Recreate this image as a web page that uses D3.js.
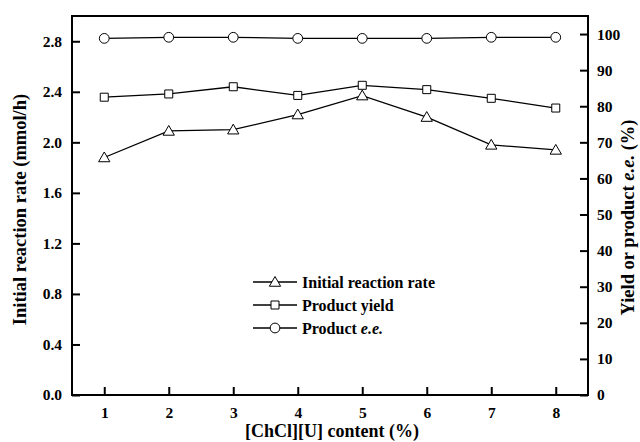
<!DOCTYPE html>
<html>
<script src="https://cdn.jsdelivr.net/npm/d3@7"></script>
<style>
    body {margin: 0; background: #fff;}
    svg text {font-family: "Liberation Serif", "Times New Roman", serif; font-weight: bold; fill: #000;}
</style>
<body>
<div id="chart"></div>
<script>
    // [ChCl][U] content (%)
    var contents = [1, 2, 3, 4, 5, 6, 7, 8];
    // initial reaction rate (mmol/h), left axis
    var rates = [1.88, 2.09, 2.10, 2.22, 2.37, 2.20, 1.98, 1.94];
    var rateErr = [0.03, 0.03, 0.03, 0.03, 0.03, 0.03, 0.03, 0.03];
    // product yield and e.e. (%), right axis
    var yields = [82.5, 83.4, 85.4, 83.0, 85.8, 84.6, 82.2, 79.5];
    var ees = [98.8, 99.1, 99.1, 98.8, 98.8, 98.8, 99.1, 99.1];

    var leftTicks = [0, 0.4, 0.8, 1.2, 1.6, 2.0, 2.4, 2.8];
    var rightTicks = [0, 10, 20, 30, 40, 50, 60, 70, 80, 90, 100];

    var margin = {top: 16, right: 52, bottom: 47, left: 72};
    var W = 640, H = 442;
    var width = W - margin.left - margin.right;
    var height = H - margin.top - margin.bottom;

    var svg = d3.select("#chart").append("svg")
        .attr("width", W)
        .attr("height", H)
        .append("g")
        .attr("transform", "translate(" + margin.left + "," + margin.top + ")");

    var x = d3.scaleLinear().domain([0.5, 8.5]).range([0, width]);
    var yL = d3.scaleLinear().domain([0, 3.0]).range([height, 0]);
    var yR = d3.scaleLinear().domain([0, 105]).range([height, 0]);

    // axes, ticks pointing inward
    var xAxis = svg.append("g")
        .attr("transform", "translate(0," + height + ")")
        .call(d3.axisBottom(x).tickValues(contents).tickSizeInner(-8).tickSizeOuter(0).tickPadding(12).tickFormat(d3.format("d")));
    var lAxis = svg.append("g")
        .call(d3.axisLeft(yL).tickValues(leftTicks).tickSizeInner(-8).tickSizeOuter(0).tickPadding(10).tickFormat(d3.format(".1f")));
    var rAxis = svg.append("g")
        .attr("transform", "translate(" + width + ",0)")
        .call(d3.axisRight(yR).tickValues(rightTicks).tickSizeInner(-8).tickSizeOuter(0).tickPadding(9).tickFormat(d3.format("d")));

    [xAxis, lAxis, rAxis].forEach(function(a) {
        a.select(".domain").remove();
        a.selectAll(".tick line").attr("stroke", "#000").attr("stroke-width", 2);
        a.selectAll("text").attr("font-size", 15.5).style("font-family", null);
    });

    // frame
    svg.append("rect")
        .attr("width", width)
        .attr("height", height)
        .attr("fill", "none")
        .attr("stroke", "#000")
        .attr("stroke-width", 2);

    function drawLine(vals, scale) {
        svg.append("path")
            .datum(vals)
            .attr("fill", "none")
            .attr("stroke", "#000")
            .attr("stroke-width", 1.3)
            .attr("d", d3.line()
                .x(function(d, i) { return x(contents[i]); })
                .y(function(d) { return scale(d); }));
    }

    drawLine(ees, yR);
    drawLine(yields, yR);
    drawLine(rates, yL);

    // error bars on rate
    svg.selectAll(".err").data(rates).enter().append("line")
        .attr("x1", function(d, i) { return x(contents[i]); })
        .attr("x2", function(d, i) { return x(contents[i]); })
        .attr("y1", function(d, i) { return yL(d + rateErr[i]); })
        .attr("y2", function(d, i) { return yL(d - rateErr[i]); })
        .attr("stroke", "#000")
        .attr("stroke-width", 1);

    var tri = d3.symbol().type(d3.symbolTriangle).size(55);
    var sq = d3.symbol().type(d3.symbolSquare).size(64);
    var circ = d3.symbol().type(d3.symbolCircle).size(75);

    function drawMarks(vals, scale, sym, dy) {
        svg.selectAll(null).data(vals).enter().append("path")
            .attr("d", sym)
            .attr("transform", function(d, i) { return "translate(" + x(contents[i]) + "," + (scale(d) + dy) + ")"; })
            .attr("fill", "#fff")
            .attr("stroke", "#000")
            .attr("stroke-width", 1);
    }

    drawMarks(ees, yR, circ, 0);
    drawMarks(yields, yR, sq, 0);
    drawMarks(rates, yL, tri, 1);

    // legend
    var legend = [
        {sym: tri, dy: 1, label: "Initial reaction rate"},
        {sym: sq, dy: 0, label: "Product yield"},
        {sym: circ, dy: 0, label: "Product ", ital: "e.e."}
    ];
    var lg = svg.append("g").attr("transform", "translate(181,266)");
    legend.forEach(function(d, i) {
        var g = lg.append("g").attr("transform", "translate(0," + (i * 23) + ")");
        g.append("line").attr("x1", 0).attr("x2", 44).attr("stroke", "#000").attr("stroke-width", 1.3);
        g.append("path").attr("d", d.sym).attr("transform", "translate(22," + d.dy + ")")
            .attr("fill", "#fff").attr("stroke", "#000").attr("stroke-width", 1);
        var t = g.append("text").attr("x", 49).attr("dy", "0.35em").attr("font-size", 16).text(d.label);
        if (d.ital) t.append("tspan").attr("font-style", "italic").text(d.ital);
    });

    // axis titles
    svg.append("text")
        .attr("x", width / 2 + 2)
        .attr("y", height + 42)
        .attr("text-anchor", "middle")
        .attr("font-size", 18)
        .text("[ChCl][U] content (%)");

    svg.append("text")
        .attr("transform", "translate(-46," + (height / 2 + 4) + ") rotate(-90)")
        .attr("text-anchor", "middle")
        .attr("font-size", 18.5)
        .text("Initial reaction rate (mmol/h)");

    var rt = svg.append("text")
        .attr("transform", "translate(" + (width + 46) + "," + (height / 2 + 12) + ") rotate(-90)")
        .attr("text-anchor", "middle")
        .attr("font-size", 18.5)
        .text("Yield or product ");
    rt.append("tspan").attr("font-style", "italic").text("e.e.");
    rt.append("tspan").text(" (%)");
</script>
</body>
</html>
